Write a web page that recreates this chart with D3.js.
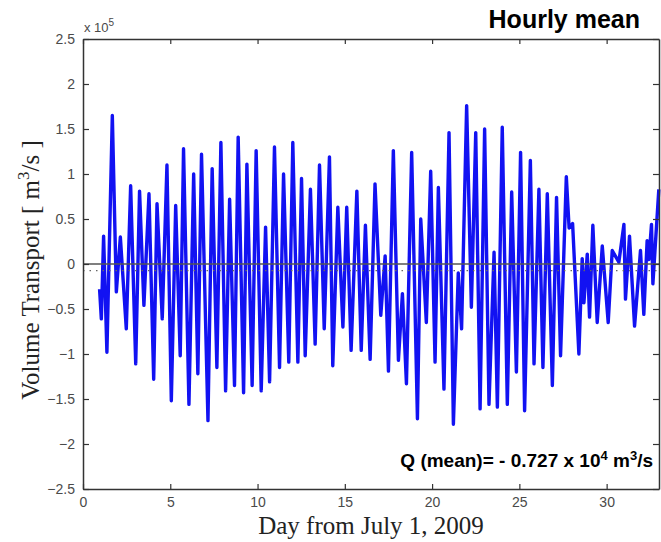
<!DOCTYPE html>
<html lang="en">
<head>
<meta charset="UTF-8">
<title>Volume Transport</title>
<style>
    body {
        margin: 0;
        background-color: #fff;
    }

    svg {
        display: block;
    }

    .tick text {
        font-family: Arial, "Liberation Sans", sans-serif;
        font-size: 14px;
        fill: #4a4a4a;
    }
</style>
</head>
<body>
<script src="https://cdn.jsdelivr.net/npm/d3@7"></script>
<script>

    let width = 661
    let height = 542
    let margin = {top: 39, right: 1, bottom: 53, left: 83}

    // hourly series at its turning points
    // day from July 1, 2009
    let days = [
        0.95, 1.05, 1.18, 1.37, 1.68, 1.91, 2.14, 2.48, 2.73, 3.02,
        3.24, 3.49, 3.78, 4.05, 4.24, 4.54, 4.81, 5.06, 5.31, 5.57,
        5.76, 6.07, 6.34, 6.58, 6.79, 7.16, 7.40, 7.67, 7.90, 8.17,
        8.40, 8.68, 8.89, 9.20, 9.39, 9.69, 9.92, 10.21, 10.46, 10.69,
        10.97, 11.26, 11.49, 11.79, 12.02, 12.31, 12.52, 12.73, 13.03, 13.30,
        13.55, 13.82, 14.12, 14.31, 14.60, 14.89, 15.11, 15.36, 15.69, 15.94,
        16.18, 16.45, 16.73, 17.06, 17.31, 17.50, 17.78, 18.07, 18.30, 18.53,
        18.83, 19.16, 19.35, 19.67, 19.92, 20.17, 20.36, 20.68, 20.97, 21.22,
        21.50, 21.69, 21.98, 22.25, 22.50, 22.75, 23.01, 23.26, 23.55, 23.74,
        24.02, 24.31, 24.56, 24.83, 25.07, 25.30, 25.63, 25.84, 26.12, 26.35,
        26.60, 26.89, 27.13, 27.36, 27.69, 27.85, 28.05, 28.41, 28.60, 28.70,
        28.89, 29.02, 29.21, 29.46, 29.75, 30.09, 30.32, 30.70, 30.99, 31.08,
        31.31, 31.60, 31.94, 32.13, 32.32, 32.42, 32.57, 32.65, 32.99
    ]
    // volume transport, x 10^5 m3/s
    let transport = [
        -0.28, -0.61, 0.31, -0.98, 1.65, -0.31, 0.30, -0.72, 0.87, -1.11,
        0.81, -0.46, 0.78, -1.28, 0.67, -0.61, 1.10, -1.52, 0.65, -1.02,
        1.28, -1.56, 1.00, -1.22, 1.22, -1.74, 1.06, -1.15, 1.35, -1.41,
        0.72, -1.35, 1.41, -1.43, 1.11, -1.35, 1.26, -1.41, 0.41, -1.31,
        1.30, -1.15, 1.00, -1.09, 1.35, -1.09, 0.95, -1.02, 0.83, -0.89,
        1.10, -0.72, 1.19, -1.13, 0.63, -0.70, 0.63, -0.96, 0.81, -0.96,
        0.43, -1.06, 0.89, -0.57, 0.09, -1.19, 1.26, -1.07, -0.33, -1.33,
        1.24, -1.72, 0.50, -0.65, 1.03, -1.09, 0.85, -1.39, 1.46, -1.78,
        -0.10, -0.72, 1.76, -0.48, 1.46, -1.61, 1.50, -1.56, 0.13, -1.59,
        1.52, -1.56, 0.80, -1.20, 1.24, -1.63, 1.15, -1.11, 0.83, -1.15,
        0.78, -1.35, 0.74, -1.02, 0.97, 0.40, 0.45, -1.00, 0.06, -0.43,
        0.11, -0.59, 0.43, -0.65, 0.20, -0.65, 0.15, 0.02, 0.44, -0.39,
        0.31, -0.69, 0.15, -0.56, 0.26, 0.05, 0.44, -0.22, 0.83
    ]

    let xTicks = [0, 5, 10, 15, 20, 25, 30]
    let yTicks = [-2.5, -2, -1.5, -1, -0.5, 0, 0.5, 1, 1.5, 2, 2.5]
    let meanQ = -0.0727   // x 10^5 m3/s

    let svg = d3.select("body").append("svg")
        .attr("width", width)
        .attr("height", height)

    let x = d3.scaleLinear()
        .domain([0, 33])
        .range([margin.left, width - margin.right - 1])
    let y = d3.scaleLinear()
        .domain([-2.5, 2.5])
        .range([height - margin.bottom, margin.top])

    let fmt = d => d3.format("")(d)

    // series
    let data = days.map((d, i) => [d, transport[i]])
    svg.append("path")
        .datum(data)
        .attr("fill", "none")
        .attr("stroke", "#1212f2")
        .attr("stroke-width", 3.4)
        .attr("stroke-linejoin", "round")
        .attr("d", d3.line().x(d => x(d[0])).y(d => y(d[1])))

    // zero line and mean line
    svg.append("line")
        .attr("x1", x(0)).attr("x2", x(33))
        .attr("y1", y(0)).attr("y2", y(0))
        .attr("stroke", "#555")
        .attr("stroke-width", 1.5)
    svg.append("line")
        .attr("x1", x(0)).attr("x2", x(33))
        .attr("y1", y(meanQ)).attr("y2", y(meanQ))
        .attr("stroke", "#666")
        .attr("stroke-width", 1.3)
        .attr("stroke-dasharray", "1.5,5")

    // axes, ticks pointing in like matlab
    let styleAxis = g => {
        g.select(".domain").attr("stroke", "#333").attr("stroke-width", 1.5)
        g.selectAll(".tick line").attr("stroke", "#333").attr("stroke-width", 1.2)
    }
    svg.append("g")
        .attr("transform", `translate(0,${y(-2.5)})`)
        .call(d3.axisBottom(x).tickValues(xTicks).tickFormat(fmt).tickSize(-5).tickSizeOuter(0).tickPadding(8))
        .call(styleAxis)
    svg.append("g")
        .attr("transform", `translate(0,${y(2.5)})`)
        .call(d3.axisTop(x).tickValues(xTicks).tickFormat("").tickSize(-5).tickSizeOuter(0))
        .call(styleAxis)
    svg.append("g")
        .attr("transform", `translate(${x(0)},0)`)
        .call(d3.axisLeft(y).tickValues(yTicks).tickFormat(fmt).tickSize(-6).tickSizeOuter(0).tickPadding(8))
        .call(styleAxis)
    svg.append("g")
        .attr("transform", `translate(${x(33)},0)`)
        .call(d3.axisRight(y).tickValues(yTicks).tickFormat("").tickSize(-6).tickSizeOuter(0))
        .call(styleAxis)

    // exponent label
    let expo = svg.append("text")
        .attr("x", x(0) + 1)
        .attr("y", 32)
        .attr("font-family", "Arial, 'Liberation Sans', sans-serif")
        .attr("font-size", 13)
        .attr("fill", "#4a4a4a")
    expo.append("tspan").text("x 10")
    expo.append("tspan").attr("dy", -6).attr("font-size", 10).text("5")

    // axis titles
    svg.append("text")
        .attr("x", (x(0) + x(33)) / 2)
        .attr("y", 534)
        .attr("text-anchor", "middle")
        .attr("font-family", "'Liberation Serif', 'Times New Roman', serif")
        .attr("font-size", 25)
        .attr("fill", "#222")
        .text("Day from July 1, 2009")

    let ylab = svg.append("text")
        .attr("transform", "translate(39,270) rotate(-90)")
        .attr("text-anchor", "middle")
        .attr("font-family", "'Liberation Serif', 'Times New Roman', serif")
        .attr("font-size", 25)
        .attr("fill", "#222")
    ylab.append("tspan").text("Volume Transport  [ m")
    ylab.append("tspan").attr("dy", -10).attr("font-size", 17).text("3")
    ylab.append("tspan").attr("dy", 10).text("/s ]")

    // labels
    svg.append("text")
        .attr("x", 640)
        .attr("y", 28)
        .attr("text-anchor", "end")
        .attr("font-family", "Arial, 'Liberation Sans', sans-serif")
        .attr("font-weight", "bold")
        .attr("font-size", 25)
        .attr("fill", "#000")
        .text("Hourly mean")

    let q = svg.append("text")
        .attr("x", 653)
        .attr("y", 467)
        .attr("text-anchor", "end")
        .attr("font-family", "Arial, 'Liberation Sans', sans-serif")
        .attr("font-weight", "bold")
        .attr("font-size", 19)
        .attr("fill", "#000")
    q.append("tspan").text("Q (mean)= - 0.727 x 10")
    q.append("tspan").attr("dy", -7).attr("font-size", 13).text("4")
    q.append("tspan").attr("dy", 7).text(" m")
    q.append("tspan").attr("dy", -7).attr("font-size", 13).text("3")
    q.append("tspan").attr("dy", 7).text("/s")

</script>
</body>
</html>
